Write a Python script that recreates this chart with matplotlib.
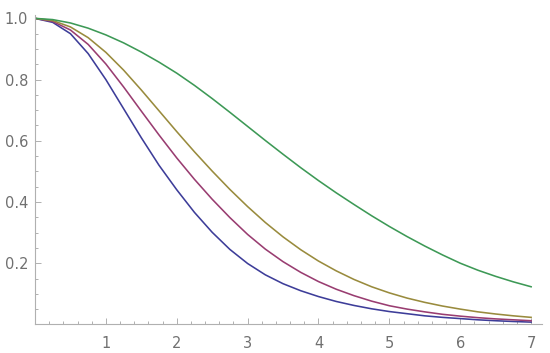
import matplotlib
matplotlib.use("Agg")
import matplotlib.pyplot as plt
from matplotlib.ticker import MultipleLocator, FixedLocator

# ------------------------------------------------------------
#   DATA
# ------------------------------------------------------------
x_vals = [0.0, 0.25, 0.5, 0.75, 1.0, 1.25, 1.5, 1.75, 2.0, 2.25, 2.5, 2.75,
          3.0, 3.25, 3.5, 3.75, 4.0, 4.25, 4.5, 4.75, 5.0, 5.25, 5.5, 5.75,
          6.0, 6.25, 6.5, 6.75, 7.0]

blue_vals = [1.0, 0.987, 0.950, 0.885, 0.800, 0.705, 0.610, 0.520, 0.440,
             0.366, 0.301, 0.245, 0.199, 0.162, 0.133, 0.110, 0.091, 0.075,
             0.062, 0.051, 0.042, 0.035, 0.028, 0.023, 0.019, 0.015, 0.012,
             0.0095, 0.0075]

purple_vals = [1.0, 0.990, 0.962, 0.915, 0.851, 0.776, 0.697, 0.619, 0.544,
               0.474, 0.409, 0.349, 0.294, 0.246, 0.205, 0.170, 0.140, 0.115,
               0.094, 0.076, 0.061, 0.050, 0.041, 0.033, 0.027, 0.022, 0.018,
               0.015, 0.012]

olive_vals = [1.0, 0.993, 0.972, 0.937, 0.889, 0.831, 0.766, 0.698, 0.630,
              0.564, 0.501, 0.441, 0.385, 0.333, 0.286, 0.244, 0.207, 0.175,
              0.147, 0.123, 0.103, 0.086, 0.072, 0.060, 0.050, 0.041, 0.034,
              0.028, 0.023]

green_vals = [1.0, 0.996, 0.985, 0.968, 0.946, 0.920, 0.890, 0.857, 0.821,
              0.781, 0.738, 0.693, 0.647, 0.601, 0.556, 0.512, 0.470, 0.430,
              0.392, 0.355, 0.320, 0.287, 0.256, 0.227, 0.200, 0.177, 0.157,
              0.139, 0.123]

x_ticks = [1, 2, 3, 4, 5, 6, 7]
y_ticks = [0.2, 0.4, 0.6, 0.8, 1.0]
y_tick_labels = ["0.2", "0.4", "0.6", "0.8", "1.0"]

# Mathematica-style default colours
series = [
    (blue_vals, (0.24, 0.24, 0.6)),
    (purple_vals, (0.6, 0.24, 0.443)),
    (olive_vals, (0.6, 0.547, 0.24)),
    (green_vals, (0.24, 0.6, 0.337)),
]

# ------------------------------------------------------------
#   PLOT
# ------------------------------------------------------------
fig = plt.figure(figsize=(5.5, 3.53), dpi=100)
ax = fig.add_axes([0.0636, 0.081, 0.9214, 0.8765])

for vals, col in series:
    ax.plot(x_vals, vals, color=col, lw=1.15, solid_joinstyle="round")

ax.set_xlim(0, 7.15)
ax.set_ylim(0, 1.011)

axis_col = "#b0b0b0"
for side in ("top", "right"):
    ax.spines[side].set_visible(False)
for side in ("left", "bottom"):
    ax.spines[side].set_color(axis_col)
    ax.spines[side].set_linewidth(0.8)

ax.xaxis.set_major_locator(FixedLocator(x_ticks))
ax.xaxis.set_minor_locator(MultipleLocator(0.2))
ax.yaxis.set_major_locator(FixedLocator(y_ticks))
ax.yaxis.set_minor_locator(MultipleLocator(0.05))
ax.set_yticklabels(y_tick_labels)

ax.tick_params(which="both", direction="in", color=axis_col, width=0.7)
ax.tick_params(which="major", length=4.5, labelsize=10.5, labelcolor="#707070")
ax.tick_params(which="minor", length=2.5)
ax.tick_params(axis="x", which="major", pad=8)
ax.tick_params(axis="y", which="major", pad=5)

fig.savefig("out.png", dpi=100)
